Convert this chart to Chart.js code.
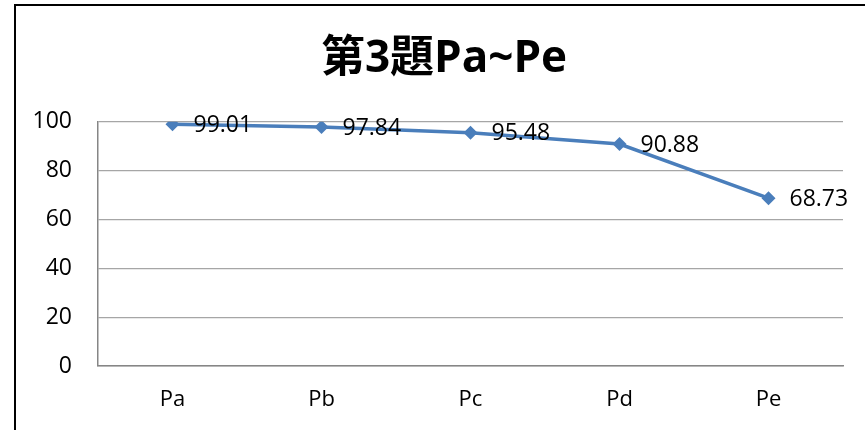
<!DOCTYPE html>
<html>
<head>
<meta charset="utf-8">
<script src="https://cdn.jsdelivr.net/npm/chart.js@4/dist/chart.umd.min.js"></script>
<style>
  html, body { margin: 0; padding: 0; background: #fff; }
  #wrap { position: absolute; left: 0; top: 0; width: 865px; height: 430px; }
</style>
</head>
<body>
<div id="wrap"><canvas id="c" width="865" height="430"></canvas></div>
<script>
const chartTitle = '第3題Pa~Pe';
const categories = ['Pa', 'Pb', 'Pc', 'Pd', 'Pe'];
const scores = [99.01, 97.84, 95.48, 90.88, 68.73];
const yTicks = [0, 20, 40, 60, 80, 100];

const FONT = '"Open Sans", "Noto Sans CJK TC", sans-serif';

const frame = {
  id: 'frame',
  afterLayout(chart) {
    // centre the title over the framed chart region rather than the whole canvas
    if (chart.titleBlock) { chart.titleBlock.left = 45; }
  },
  beforeDraw(chart) {
    const ctx = chart.ctx;
    ctx.save();
    ctx.fillStyle = '#fff';
    ctx.fillRect(0, 0, chart.width, chart.height);
    ctx.strokeStyle = '#000';
    ctx.lineWidth = 2;
    ctx.beginPath();
    ctx.moveTo(15, chart.height + 2);
    ctx.lineTo(15, 5);
    ctx.lineTo(chart.width + 2, 5);
    ctx.stroke();
    ctx.restore();
  }
};

const valueLabels = {
  id: 'valueLabels',
  afterDatasetsDraw(chart) {
    const ctx = chart.ctx;
    const meta = chart.getDatasetMeta(0);
    ctx.save();
    ctx.font = '23px ' + FONT;
    ctx.fillStyle = '#000';
    ctx.textAlign = 'left';
    ctx.textBaseline = 'middle';
    meta.data.forEach((pt, i) => {
      ctx.fillText(scores[i].toFixed(2), pt.x + 21, pt.y + 1);
    });
    ctx.restore();
  }
};

new Chart(document.getElementById('c'), {
  type: 'line',
  data: {
    labels: categories,
    datasets: [{
      data: scores,
      borderColor: '#4A7EBB',
      backgroundColor: '#4A7EBB',
      borderWidth: 3.5,
      pointStyle: 'rectRot',
      pointRadius: 7,
      pointBorderWidth: 0,
      pointBackgroundColor: '#4A7EBB',
      tension: 0
    }]
  },
  options: {
    responsive: false,
    animation: false,
    devicePixelRatio: 1,
    layout: { padding: { left: 0, right: 22, top: 0, bottom: 0 } },
    plugins: {
      legend: { display: false },
      tooltip: { enabled: false },
      title: {
        display: true,
        text: chartTitle,
        color: '#000',
        font: { family: FONT, size: 44, weight: 'bold', lineHeight: 1.2 },
        padding: { top: 33, bottom: 36 }
      }
    },
    scales: {
      x: {
        type: 'category',
        offset: true,
        grid: { display: false, drawTicks: false },
        border: { display: true, color: '#868686', width: 1.5 },
        ticks: { color: '#000', font: { family: FONT, size: 22 }, padding: 21, maxRotation: 0 },
        afterFit(scale) { scale.height = 64; }
      },
      y: {
        min: 0,
        max: 100,
        grid: { color: '#A6A6A6', lineWidth: 1.2, drawTicks: false },
        border: { display: true, color: '#868686', width: 1.5 },
        ticks: {
          color: '#000',
          font: { family: FONT, size: 23 },
          padding: 26,
          stepSize: 20,
          callback: (v) => yTicks.includes(v) ? String(v) : ''
        },
        afterFit(scale) { scale.width = 98; }
      }
    }
  },
  plugins: [frame, valueLabels]
});
</script>
</body>
</html>
